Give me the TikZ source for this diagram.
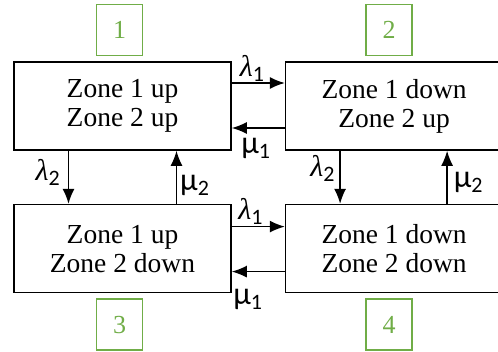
\documentclass[tikz,border=0pt]{standalone}
\usepackage{fontspec}
\setmainfont{Liberation Serif}
\newfontfamily\labfont{Carlito}
\usepackage{tikz}
\usetikzlibrary{arrows.meta,positioning}
\definecolor{tagline}{HTML}{70AD47}
\newcommand{\ratesub}[1]{\raisebox{-5pt}{\labfont\fontsize{22}{22}\selectfont #1}}
\newcommand{\lamlab}[1]{{\itshape\fontsize{30}{30}\selectfont λ}\ratesub{#1}}
\newcommand{\mulab}[1]{{\labfont\fontsize{32}{32}\selectfont μ}\ratesub{#1}}

\begin{document}
\begin{tikzpicture}[
  x=1pt, y=1pt,
  statebox/.style={draw, line width=1.6pt, minimum width=217pt, minimum height=88pt, inner sep=0pt, align=center, font=\fontsize{27.5}{29}\selectfont},
  tagbox/.style={draw=tagline, line width=1.5pt, text=tagline, minimum width=46pt, minimum height=51pt, inner sep=0pt, font=\fontsize{26}{26}\selectfont},
  rate/.style={inner sep=0pt},
  >={Latex[length=15pt,width=12pt]}
]
\useasboundingbox (0,0) rectangle (498,-352);

\node[statebox] (s1) at (122.5,-106) {Zone 1 up\\Zone 2 up};
\node[statebox, right=53pt of s1] (s2) {Zone 1 down\\Zone 2 up};
\node[statebox, below=53pt of s1] (s3) {Zone 1 up\\Zone 2 down};
\node[statebox, below=53pt of s2] (s4) {Zone 1 down\\Zone 2 down};

\node[tagbox, above=5pt of s1, xshift=-3pt] (t1) {1};
\node[tagbox, above=5pt of s2, xshift=-5pt] (t2) {2};
\node[tagbox, below=5pt of s3, xshift=-3pt] (t3) {3};
\node[tagbox, below=5pt of s4, xshift=-5pt] (t4) {4};

% horizontal transitions
\draw[->, line width=1.4pt] ([yshift=23pt]s1.east) -- node[rate, above=1pt, pos=0.38] {\lamlab{1}} ([yshift=23pt]s2.west);
\draw[->, line width=1.4pt] ([yshift=-22pt]s2.west) -- node[rate, below=10pt, pos=0.55] {\mulab{1}} ([yshift=-22pt]s1.east);
\draw[->, line width=1.4pt] ([yshift=22pt]s3.east) -- node[rate, above=1pt, pos=0.35] {\lamlab{1}} ([yshift=22pt]s4.west);
\draw[->, line width=1.4pt] ([yshift=-23pt]s4.west) -- node[rate, below=17pt, pos=0.7] {\mulab{1}} ([yshift=-23pt]s3.east);

% vertical transitions
\draw[->, line width=1.4pt] ([xshift=-54pt]s1.south) -- node[rate, left=8pt, pos=0.4] {\lamlab{2}} ([xshift=-54pt]s3.north);
\draw[->, line width=1.4pt] ([xshift=54pt]s3.north) -- node[rate, right=3pt, pos=0.35] {\mulab{2}} ([xshift=54pt]s1.south);
\draw[->, line width=1.4pt] ([xshift=-54pt]s2.south) -- node[rate, left=5pt, pos=0.33] {\lamlab{2}} ([xshift=-54pt]s4.north);
\draw[->, line width=1.4pt] ([xshift=53pt]s4.north) -- node[rate, right=6pt, pos=0.4] {\mulab{2}} ([xshift=53pt]s2.south);

\end{tikzpicture}
\end{document}
